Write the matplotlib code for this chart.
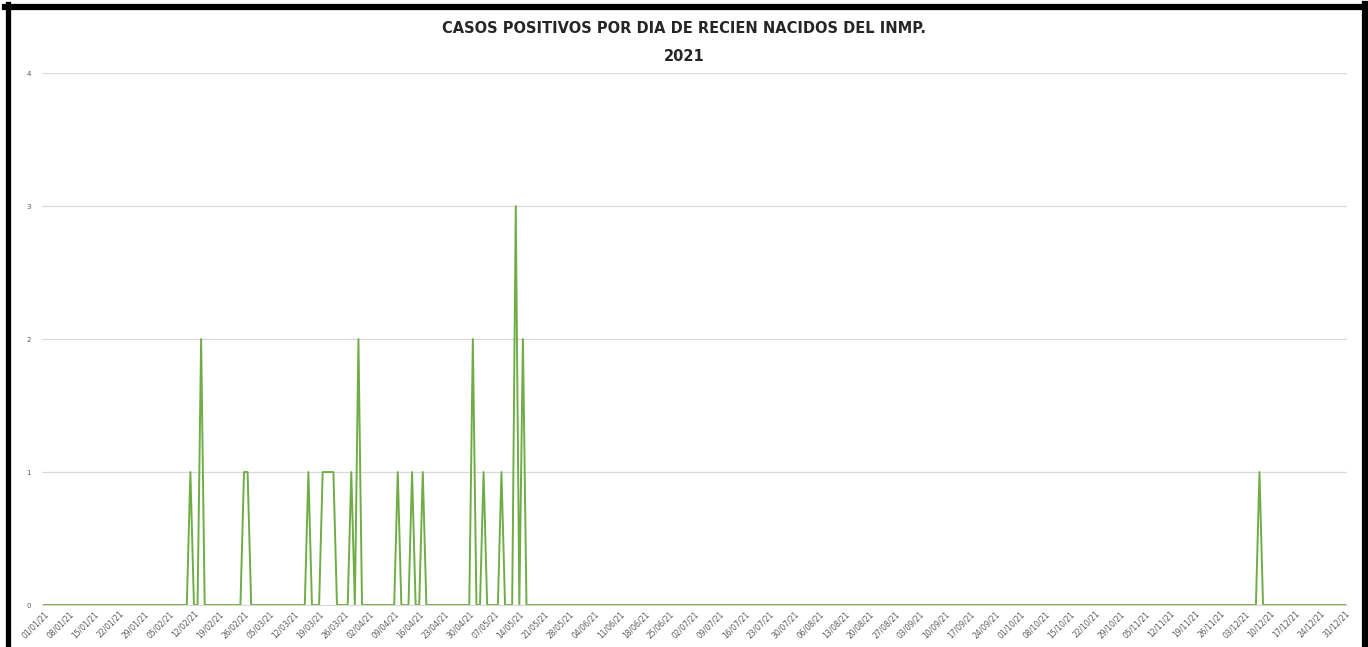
import pandas as pd
import matplotlib
matplotlib.use("Agg")
from matplotlib import pyplot as plt
from matplotlib import dates as mdates
from matplotlib.lines import Line2D

# dias con casos positivos (el resto del año = 0)
case_dates = ['2021-02-11', '2021-02-14', '2021-02-26', '2021-02-27', '2021-03-16',
              '2021-03-20', '2021-03-21', '2021-03-22', '2021-03-23', '2021-03-28',
              '2021-03-30', '2021-04-10', '2021-04-14', '2021-04-17', '2021-05-01',
              '2021-05-04', '2021-05-09', '2021-05-13', '2021-05-15', '2021-12-07']
case_counts = [1, 2, 1, 1, 1,
               1, 1, 1, 1, 1,
               2, 1, 1, 1, 2,
               1, 1, 3, 2, 1]
y_ticks = [0, 1, 2, 3, 4]
title = 'CASOS POSITIVOS POR DIA DE RECIEN NACIDOS DEL INMP.\n2021'

days = pd.date_range('2021-01-01', '2021-12-31', freq='D')
serie = pd.Series(case_counts, index=pd.to_datetime(case_dates)).reindex(days, fill_value=0)
week_ticks = pd.date_range('2021-01-01', '2021-12-31', freq='7D')

fig = plt.figure(figsize=(13.68, 6.47), dpi=100)
ax = fig.add_axes([0.0307, 0.0649, 0.954, 0.822])

ax.plot(serie.index, serie.values, color='#70AD47', lw=1.4)

ax.set_ylim(0, 4)
ax.set_yticks(y_ticks)
ax.set_xlim(days[0] - pd.Timedelta(hours=12), days[-1] + pd.Timedelta(hours=12))
ax.set_xticks(week_ticks)
ax.xaxis.set_major_formatter(mdates.DateFormatter('%d/%m/%y'))
ax.tick_params(axis='x', labelsize=5.5, labelcolor='#595959', length=0, rotation=45, pad=3)
ax.tick_params(axis='y', labelsize=5, labelcolor='#595959', length=0, pad=8)
for lab in ax.get_xticklabels():
    lab.set_ha('right')
    lab.set_rotation_mode('anchor')

ax.grid(axis='y', color='#D9D9D9', lw=0.9)
ax.set_axisbelow(True)
for s in ['top', 'right', 'left']:
    ax.spines[s].set_visible(False)
ax.spines['bottom'].set_color('#D9D9D9')

fig.text(0.5, 0.934, title, ha='center', va='center', fontsize=10.5,
         fontweight='bold', color='#262626', linespacing=2.05)

# marco negro de la captura
W, H = 1368, 647
fig.add_artist(Line2D([5 / W, 1], [1 - 7 / H, 1 - 7 / H], color='black', lw=4.5))
fig.add_artist(Line2D([7.5 / W, 7.5 / W], [0, 1 - 4 / H], color='black', lw=3.8))
fig.add_artist(Line2D([1365 / W, 1365 / W], [0, 1 - 4 / H], color='black', lw=4.5))

fig.savefig('out.png', dpi=100)
